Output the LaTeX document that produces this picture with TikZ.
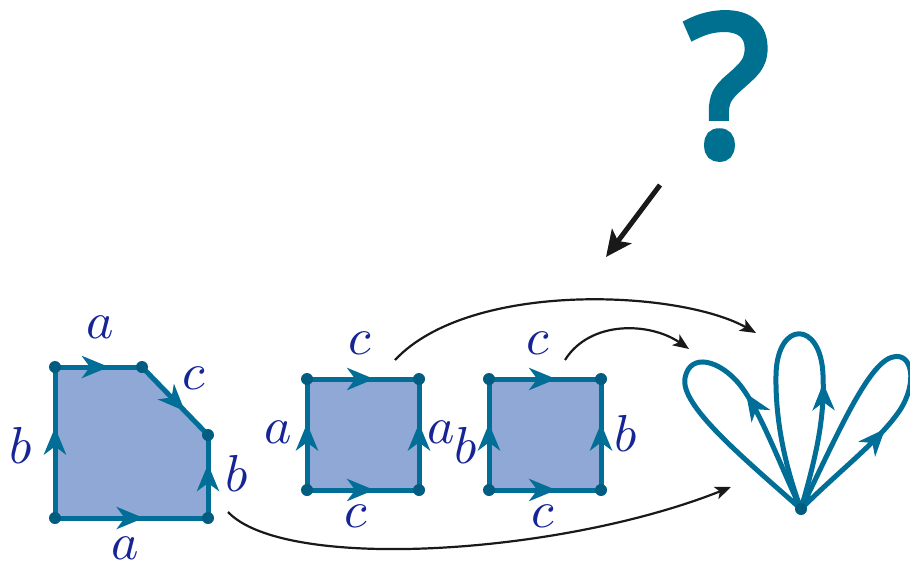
\documentclass[tikz,border=0pt]{standalone}
\usepackage{fontspec}
\usepackage{unicode-math}
\newfontfamily\qfont{Open Sans}[FakeBold=4]
\usetikzlibrary{arrows.meta,decorations.markings}
\definecolor{teal}{RGB}{0,110,150}
\definecolor{dotc}{RGB}{0,92,128}
\definecolor{fillc}{RGB}{143,168,213}
\definecolor{labc}{RGB}{22,36,150}
\definecolor{qc}{RGB}{0,112,145}
\tikzset{
  edge/.style={teal,line width=5pt,line cap=round,line join=round},
  arrowat/.style={postaction={decorate,decoration={markings,
      mark=at position #1 with {\arrow{Stealth[length=27pt,width=22pt,inset=8pt]}}}}},
  vdot/.style={circle,fill=dotc,inner sep=0pt,minimum size=12pt},
  lab/.style={text=labc,font=\fontsize{52}{56}\selectfont,inner sep=0pt},
  conn/.style={black!90,line width=2.2pt,-{Stealth[length=16pt,width=13pt,inset=4pt]}},
}
\begin{document}
\begin{tikzpicture}[x=1pt,y=-1pt]
\useasboundingbox (0,0) rectangle (910,567);
% hexagon
\coordinate (p1) at (55,518);
\coordinate (p2) at (208,518);
\coordinate (p3) at (208,435);
\coordinate (p4) at (142,367);
\coordinate (p5) at (55,367);
\fill[fillc] (p1)--(p2)--(p3)--(p4)--(p5)--cycle;
\draw[edge,arrowat=0.58] (p1)--(p2);
\draw[edge,arrowat=0.65] (p2)--(p3);
\draw[edge,arrowat=0.65] (p4)--(p3);
\draw[edge,arrowat=0.62] (p5)--(p4);
\draw[edge,arrowat=0.6] (p1)--(p5);
\foreach \p in {p1,p2,p3,p4,p5} \node[vdot] at (\p) {};
\node[lab] (la1) at (100,327) {$a$};
\node[lab] (lc1) at (194,378) {$c$};
\node[lab] (lb1) at (237,474) {$b$};
\node[lab] (la2) at (125,548) {$a$};
\node[lab] (lb2) at (21,446) {$b$};
% square 1
\coordinate (q1) at (307,490);
\coordinate (q2) at (419,490);
\coordinate (q3) at (419,379);
\coordinate (q4) at (307,379);
\fill[fillc] (q1)--(q2)--(q3)--(q4)--cycle;
\draw[edge,arrowat=0.6] (q1)--(q2);
\draw[edge,arrowat=0.6] (q2)--(q3);
\draw[edge,arrowat=0.6] (q4)--(q3);
\draw[edge,arrowat=0.6] (q1)--(q4);
\foreach \p in {q1,q2,q3,q4} \node[vdot] at (\p) {};
\node[lab] (lc2) at (360,343) {$c$};
\node[lab] (la3) at (278,432) {$a$};
\node[lab] (la4) at (441,432) {$a$};
\node[lab] (lc3) at (356,516) {$c$};
% square 2
\coordinate (r1) at (489,490);
\coordinate (r2) at (601,490);
\coordinate (r3) at (601,379);
\coordinate (r4) at (489,379);
\fill[fillc] (r1)--(r2)--(r3)--(r4)--cycle;
\draw[edge,arrowat=0.6] (r1)--(r2);
\draw[edge,arrowat=0.6] (r2)--(r3);
\draw[edge,arrowat=0.6] (r4)--(r3);
\draw[edge,arrowat=0.6] (r1)--(r4);
\foreach \p in {r1,r2,r3,r4} \node[vdot] at (\p) {};
\node[lab] (lc4) at (538,343) {$c$};
\node[lab] (lb3) at (466,446) {$b$};
\node[lab] (lb4) at (626,434) {$b$};
\node[lab] (lc5) at (543,516) {$c$};
% bouquet
\coordinate (B) at (801,509);
\draw[edge,arrowat=0.33] (B) .. controls (780,465) and (760,410) .. (740,385)
  .. controls (720,360) and (690,352) .. (685,378)
  .. controls (680,405) and (740,455) .. (B);
\draw[edge,arrowat=0.34] (B) .. controls (815,460) and (825,420) .. (823,375)
  .. controls (821,320) and (777,320) .. (776,375)
  .. controls (775,430) and (790,480) .. (B);
\draw[edge,arrowat=0.3] (B) .. controls (840,470) and (880,440) .. (900,410)
  .. controls (918,382) and (912,352) .. (893,357)
  .. controls (868,362) and (835,440) .. (B);
\node[vdot] (base) at (B) {};
% connectors
\coordinate (s1) at (395,360);
\coordinate (t1) at (756,333);
\coordinate (s2) at (565,360);
\coordinate (t2) at (689,349);
\coordinate (s3) at (228,512);
\coordinate (t3) at (731,487);
\draw[conn] (s1) .. controls (470,280) and (680,290) .. (t1);
\draw[conn] (s2) .. controls (590,320) and (650,322) .. (t2);
\draw[conn] (s3) .. controls (285,572) and (560,555) .. (t3);
% question mark
\node[text=qc,font=\qfont\fontsize{195}{200}\selectfont,inner sep=0pt] (qm) at (727,86) {?};
\coordinate (a1) at (660,185);
\coordinate (a2) at (606,257);
\draw[black!90,line width=5pt,-{Stealth[length=26pt,width=24pt,inset=6pt]}] (a1) -- (a2);
\end{tikzpicture}
\end{document}
